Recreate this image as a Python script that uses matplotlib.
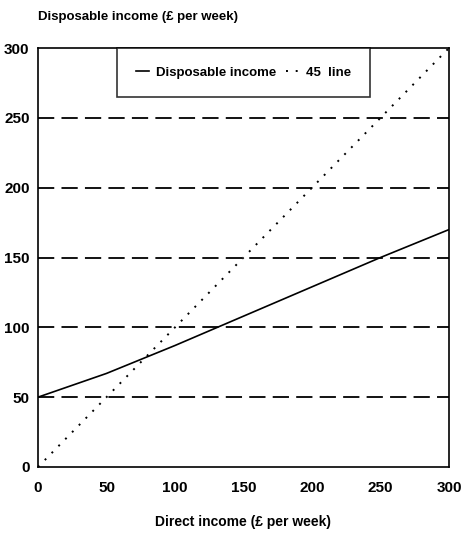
import matplotlib
matplotlib.use('Agg')
import matplotlib.pyplot as plt

plt.rcParams['font.family'] = ['Liberation Sans', 'DejaVu Sans']
plt.rcParams['font.weight'] = 'bold'

# data
direct_income = [0, 50, 100, 150, 200, 250, 300]
disposable_income = [50, 67, 87, 108, 129, 150, 170]
line45 = [0, 300]
grid_levels = [50, 100, 150, 200, 250]

fig = plt.figure(figsize=(4.62, 5.33), dpi=100)
ax = fig.add_axes([38 / 462, 1 - 467 / 533, 411 / 462, 419 / 533])

for g in grid_levels:
    ax.axhline(g, color='black', lw=1.3, dashes=(9, 4), zorder=1)

ax.plot(direct_income, disposable_income, color='black', lw=1.2, label='Disposable income')
ax.plot(line45, line45, color='black', lw=1.4, linestyle=(0, (1, 4)), label='45  line')

ax.set_xlim(0, 300)
ax.set_ylim(0, 300)
ax.set_xticks([0, 50, 100, 150, 200, 250, 300])
ax.set_yticks([0, 50, 100, 150, 200, 250, 300])
ax.tick_params(length=0, labelsize=11)
ax.tick_params(axis='x', pad=10)
ax.tick_params(axis='y', pad=6)
for s in ax.spines.values():
    s.set_linewidth(1.2)

leg = ax.legend(ncol=2, loc='upper center', bbox_to_anchor=(0.5, 1.0),
                frameon=True, fancybox=False, edgecolor='black',
                fontsize=9.5, handlelength=1.0, handletextpad=0.5, borderpad=1.4,
                columnspacing=0.8, borderaxespad=0)
leg.get_frame().set_linewidth(1.2)

fig.text(38 / 462, 1 - 17 / 533, 'Disposable income (£ per week)', fontsize=9.5,
         ha='left', va='center')
fig.text(243 / 462, 1 - 522 / 533, 'Direct income (£ per week)', fontsize=10,
         ha='center', va='center')

fig.savefig('out.png', dpi=100)
